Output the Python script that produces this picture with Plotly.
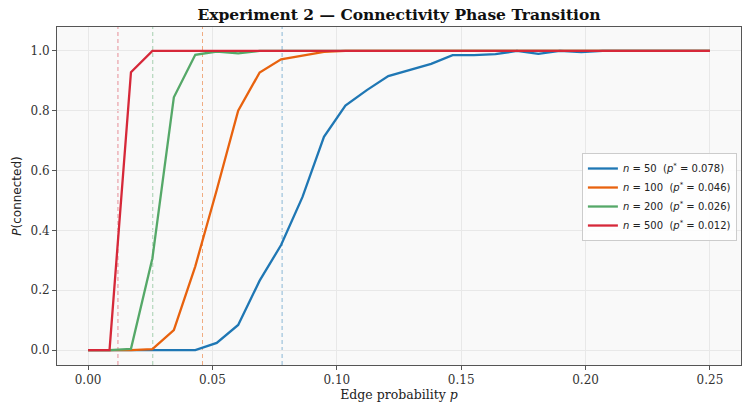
import plotly.graph_objects as go

# Edge probability grid
p_values = [0.0, 0.00862, 0.01724, 0.02586, 0.03448, 0.04310, 0.05172, 0.06034,
            0.06897, 0.07759, 0.08621, 0.09483, 0.10345, 0.11207, 0.12069, 0.12931,
            0.13793, 0.14655, 0.15517, 0.16379, 0.17241, 0.18103, 0.18966, 0.19828,
            0.20690, 0.21552, 0.22414, 0.23276, 0.24138, 0.25]

p_conn_n50 = [0, 0, 0, 0, 0, 0, 0.024, 0.084, 0.232, 0.351, 0.512, 0.713, 0.817, 0.869,
              0.916, 0.936, 0.957, 0.986, 0.986, 0.989, 1.0, 0.99, 1.0, 0.996, 1.0,
              1.0, 1.0, 1.0, 1.0, 1.0]
p_conn_n100 = [0, 0, 0, 0.003, 0.067, 0.28, 0.535, 0.80, 0.928, 0.972, 0.985, 0.997,
               1.0, 1.0, 1.0, 1.0, 1.0, 1.0, 1.0, 1.0, 1.0, 1.0, 1.0, 1.0, 1.0,
               1.0, 1.0, 1.0, 1.0, 1.0]
p_conn_n200 = [0, 0, 0.004, 0.307, 0.845, 0.987, 0.998, 0.992, 1.0, 1.0, 1.0, 1.0,
               1.0, 1.0, 1.0, 1.0, 1.0, 1.0, 1.0, 1.0, 1.0, 1.0, 1.0, 1.0, 1.0,
               1.0, 1.0, 1.0, 1.0, 1.0]
p_conn_n500 = [0, 0, 0.929, 1.0, 1.0, 1.0, 1.0, 1.0, 1.0, 1.0, 1.0, 1.0, 1.0, 1.0,
               1.0, 1.0, 1.0, 1.0, 1.0, 1.0, 1.0, 1.0, 1.0, 1.0, 1.0, 1.0, 1.0,
               1.0, 1.0, 1.0]

n_values = [50, 100, 200, 500]
p_star = [0.078, 0.046, 0.026, 0.012]
colors = ["#1f77b4", "#e8620e", "#55a868", "#d62839"]
series = [p_conn_n50, p_conn_n100, p_conn_n200, p_conn_n500]

x_ticks = [0.0, 0.05, 0.10, 0.15, 0.20, 0.25]
y_ticks = [0.0, 0.2, 0.4, 0.6, 0.8, 1.0]

fig = go.Figure()

for n, ps, col, ys in zip(n_values, p_star, colors, series):
    fig.add_trace(go.Scatter(
        x=p_values, y=ys, mode="lines",
        line=dict(color=col, width=2.3),
        name=f"<i>n</i> = {n}\u00a0\u00a0(<i>p</i><sup>*</sup> = {ps:.3f})",
    ))
    fig.add_shape(type="line", xref="x", yref="paper", x0=ps, x1=ps, y0=0, y1=1,
                  line=dict(color=col, width=1, dash="4px,3px"), opacity=0.5, layer="below")

axis_common = dict(
    showline=True, linecolor="#555555", linewidth=1, mirror=True,
    ticks="outside", ticklen=4, tickcolor="#555555",
    showgrid=True, gridcolor="#e8e8e8", gridwidth=0.8, zeroline=False,
    tickfont=dict(family="DejaVu Serif", size=12, color="#333333"),
    automargin=False,
)

fig.update_layout(
    width=743, height=402,
    margin=dict(l=57, r=2, t=27, b=37),
    paper_bgcolor="white", plot_bgcolor="#f9f9f9",
    title=dict(text="<b>Experiment 2 — Connectivity Phase Transition</b>",
               x=(57 + 741) / 2 / 743, xanchor="center", y=0.963, yanchor="middle",
               font=dict(family="DejaVu Serif", size=15.5, color="#111111")),
    xaxis=dict(range=[-0.0125, 0.2625], tickvals=x_ticks,
               ticktext=[f"{v:.2f}" for v in x_ticks],
               title=dict(text="Edge probability <i>p</i>", standoff=4,
                          font=dict(family="DejaVu Serif", size=12.5, color="#222222")),
               **axis_common),
    yaxis=dict(range=[-0.05, 1.08], tickvals=y_ticks,
               ticktext=[f"{v:.1f}" for v in y_ticks],
               title=dict(text="<i>P</i>(connected)", standoff=6,
                          font=dict(family="DejaVu Sans", size=12, color="#222222")),
               **axis_common),
    legend=dict(x=0.994, xanchor="right", y=0.497, yanchor="middle",
                bgcolor="rgba(255,255,255,0.85)", bordercolor="#cccccc", borderwidth=1,
                font=dict(family="DejaVu Sans", size=10, color="#222222"),
                itemwidth=30, tracegroupgap=3),
    showlegend=True,
)

fig.write_html("out.html")
